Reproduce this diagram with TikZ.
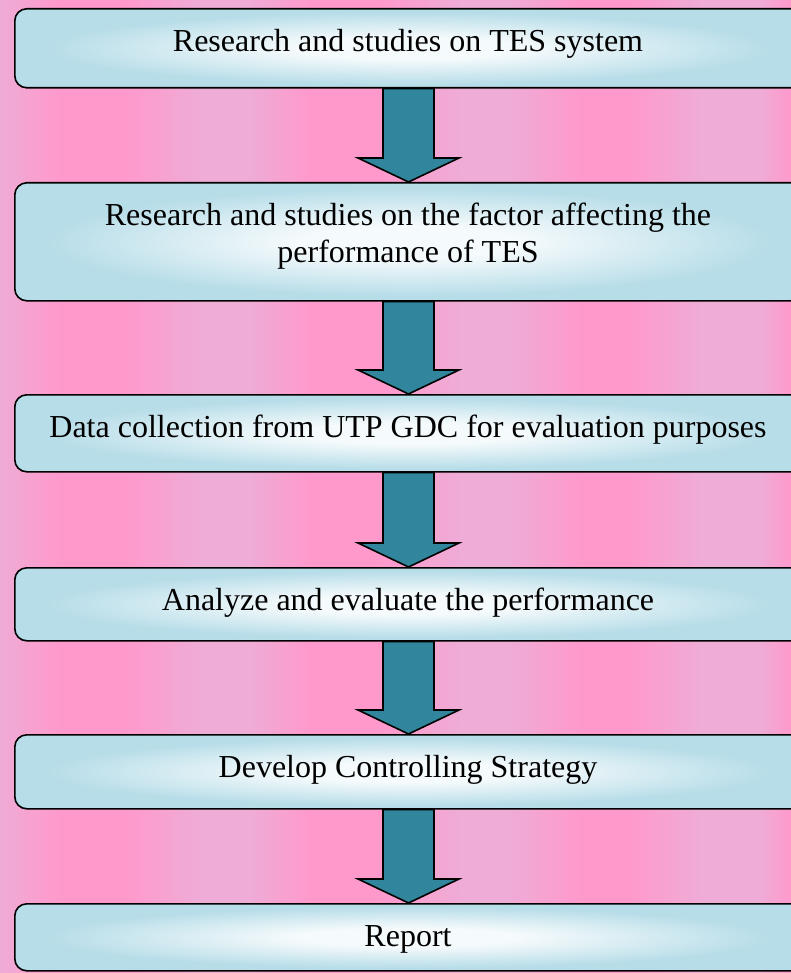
\documentclass[tikz,border=0pt]{standalone}
\usepackage{fontspec}
\setmainfont{Liberation Serif}
\usetikzlibrary{calc}
\definecolor{bgpink}{RGB}{255,153,204}
\definecolor{bglight}{RGB}{238,172,214}
\definecolor{boxblue}{RGB}{183,221,232}
\definecolor{boxlight}{RGB}{245,250,252}
\definecolor{arrowteal}{RGB}{49,133,156}
\pgfdeclareradialshading{boxshade}{\pgfpointorigin}{color(0bp)=(boxlight); color(7bp)=(boxlight); color(23bp)=(boxblue); color(50bp)=(boxblue)}
\newcommand\blockarrow[2]{%
  \draw[barrow] let \p1=(#1.south), \p2=(#2.north) in
    ({383pt},{\y1}) -- ({434pt},{\y1}) -- ({434pt},{\y2+24pt}) -- ({459pt},{\y2+24pt})
    -- ({408.5pt},{\y2}) -- ({358pt},{\y2+24pt}) -- ({383pt},{\y2+24pt}) -- cycle;}
\begin{document}
\begin{tikzpicture}[x=1pt,y=-1pt,
  box/.style={shade, shading=boxshade, draw=black, line width=1.6pt,
    rounded corners=12pt, anchor=north west, inner sep=0pt, minimum width=788pt},
  lbl/.style={font=\fontsize{32}{36.8}\selectfont, inner sep=0pt, anchor=base, align=center},
  barrow/.style={fill=arrowteal, draw=black, line width=1.6pt, line join=miter}]
\clip (0,0) rectangle (791,973);
\fill[bgpink] (0,0) rectangle (791,973);
\foreach \xa/\ca/\xb/\cb in {0/bglight/60/bgpink, 125/bgpink/200/bglight, 200/bglight/250/bglight,
   250/bglight/310/bgpink, 380/bgpink/460/bglight, 460/bglight/510/bglight, 510/bglight/580/bgpink,
   630/bgpink/700/bglight, 700/bglight/760/bglight, 760/bglight/791/bgpink}
  \shade[left color=\ca, right color=\cb] (\xa-0.3,0) rectangle (\xb+0.3,973);
\node[box, minimum height=79pt] (b1) at (14,8) {};
\node[box, minimum height=118pt] (b2) at (14,182) {};
\node[box, minimum height=77pt] (b3) at (14,394) {};
\node[box, minimum height=73pt] (b4) at (14,567) {};
\node[box, minimum height=74pt] (b5) at (14,734) {};
\node[box, minimum height=67pt] (b6) at (14,903) {};
\node[lbl] (t1) at (408,51.5) {Research and studies on TES system};
\node[lbl] (t2) at (408,262.8) {Research and studies on the factor affecting the\\performance of TES};
\node[lbl] (t3) at (408,437.5) {Data collection from UTP GDC for evaluation purposes};
\node[lbl] (t4) at (408,610.5) {Analyze and evaluate the performance};
\node[lbl] (t5) at (408,777.5) {Develop Controlling Strategy};
\node[lbl] (t6) at (408,946.5) {Report};
\blockarrow{b1}{b2}
\blockarrow{b2}{b3}
\blockarrow{b3}{b4}
\blockarrow{b4}{b5}
\blockarrow{b5}{b6}
\end{tikzpicture}
\end{document}
